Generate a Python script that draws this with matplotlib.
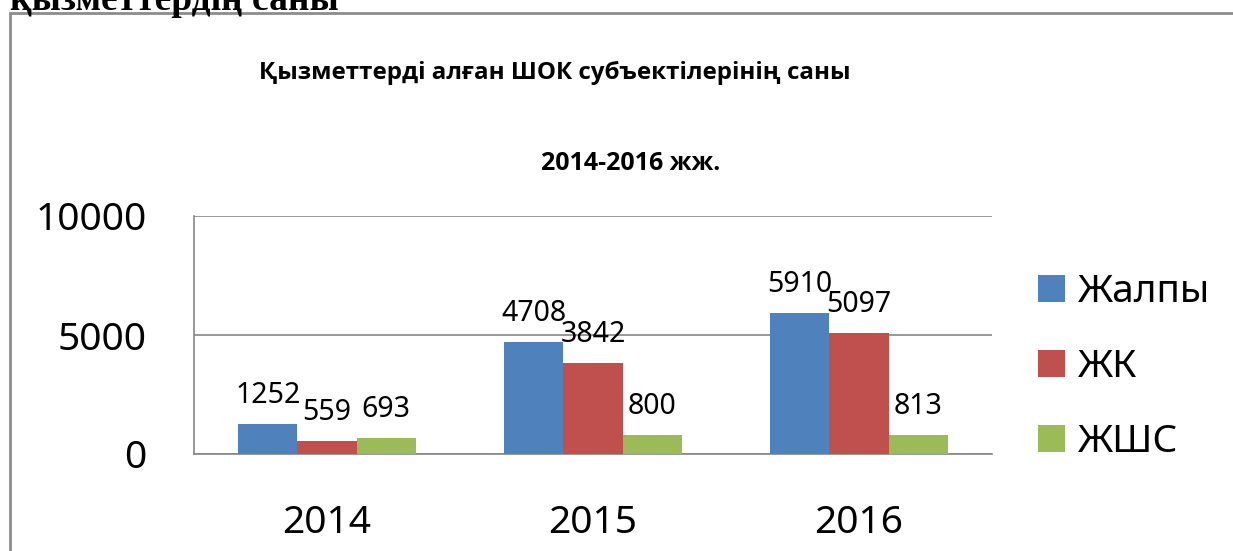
import matplotlib

matplotlib.use("Agg")
import matplotlib.pyplot as plt
import numpy as np
from matplotlib.patches import Patch, Rectangle

plt.rcParams["font.family"] = ["Noto Sans", "DejaVu Sans"]

# данные
years = ["2014", "2015", "2016"]
series_names = ["Жалпы", "ЖК", "ЖШС"]
zhalpy = [1252, 4708, 5910]
zhk = [559, 3842, 5097]
zhshs = [693, 800, 813]
y_ticks = [0, 5000, 10000]

colors = ["#4F81BD", "#C0504D", "#9BBB59"]

fig = plt.figure(figsize=(12.33, 5.51), dpi=100)

# рамка диаграммы (уходит за правый и нижний край)
fig.patches.append(
    Rectangle((10 / 1233, -0.05), 1.2, 1 - 13 / 551 + 0.05,
              transform=fig.transFigure, fill=False,
              edgecolor="#8c8c8c", linewidth=2)
)

# обрезанная строка текста сверху
fig.text(10 / 1233, 1 - 10 / 551, "қызметтердің саны",
         family=["Liberation Serif", "DejaVu Serif"], fontweight="bold", fontsize=27,
         ha="left", va="baseline")

ax = fig.add_axes([194 / 1233, 1 - 454 / 551, (992 - 194) / 1233, (454 - 216) / 551])

x = np.arange(len(years))
width = 1 / 4.5
for i, (vals, name) in enumerate(zip([zhalpy, zhk, zhshs], series_names)):
    bars = ax.bar(x + (i - 1) * width, vals, width, color=colors[i], label=name, zorder=3)
    ax.bar_label(bars, padding=10, fontsize=20.5, color="#000000")

ax.set_xlim(-0.5, len(years) - 0.5)
ax.set_ylim(0, 10000)
ax.set_yticks(y_ticks)
ax.set_yticklabels([str(t) for t in y_ticks], fontsize=28)
ax.set_xticks(x)
ax.set_xticklabels(years, fontsize=28)
ax.tick_params(axis="both", length=0)
ax.tick_params(axis="y", pad=34)
ax.tick_params(axis="x", pad=36)
ax.yaxis.grid(True, color="#868686", linewidth=1.2, zorder=0)
for side in ["top", "right"]:
    ax.spines[side].set_visible(False)
ax.spines["left"].set_color("#868686")
ax.spines["bottom"].set_color("#868686")
ax.spines["left"].set_linewidth(1.2)
ax.spines["bottom"].set_linewidth(1.2)

title_font = ["Open Sans", "DejaVu Sans"]
fig.text(555 / 1233, 1 - 73 / 551, "Қызметтерді алған ШОК субъектілерінің саны",
         family=title_font, fontsize=17.4, fontweight="bold", ha="center", va="center")
fig.text(631 / 1233, 1 - 163 / 551, "2014-2016 жж.",
         family=title_font, fontsize=18, fontweight="bold", ha="center", va="center")

handles = [Patch(facecolor=c, edgecolor="none") for c in colors]
fig.legend(handles, series_names, loc="center left",
           bbox_to_anchor=(1038 / 1233, 1 - 367 / 551),
           frameon=False, fontsize=28, handlelength=0.7, handleheight=0.7,
           handletextpad=0.33, labelspacing=0.95, borderpad=0, borderaxespad=0)

fig.savefig("out.png", dpi=100)
